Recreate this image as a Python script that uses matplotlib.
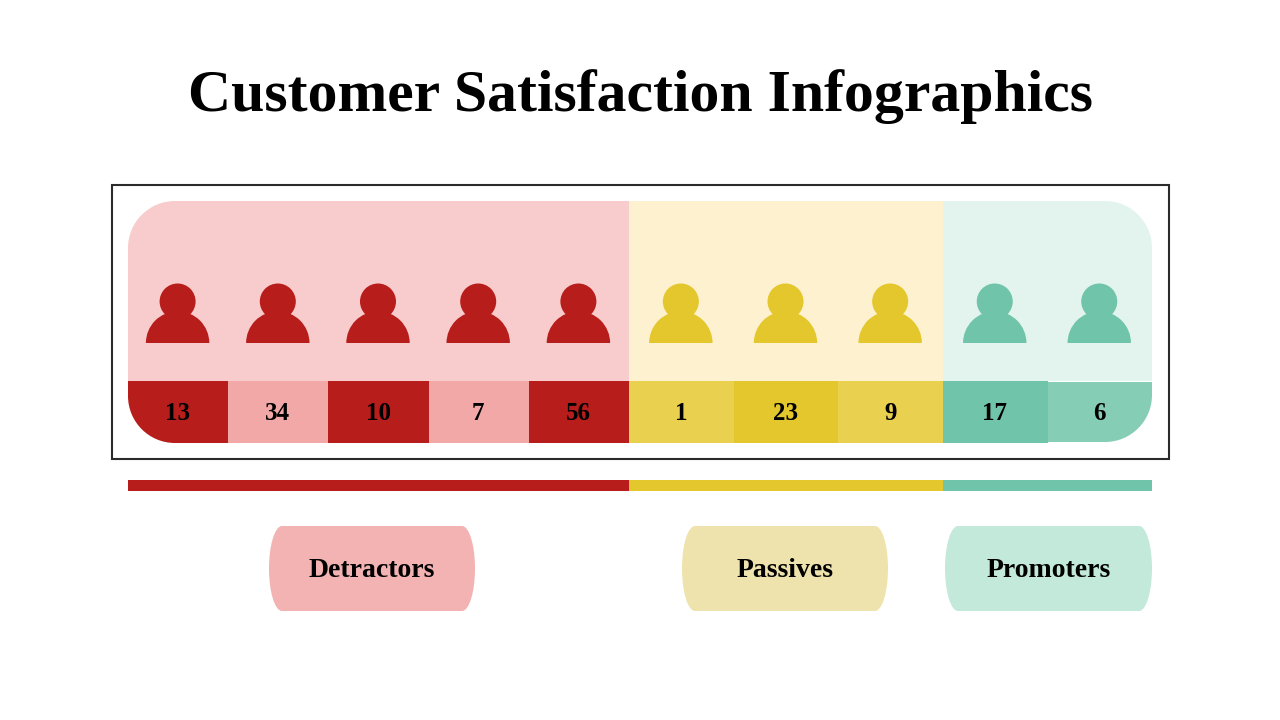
"""
    Customer Satisfaction Infographics
    NPS style strip: people, counts and three groups
"""

# %% Library
import matplotlib
matplotlib.use("Agg")
import matplotlib.pyplot as plt
from matplotlib.patches import Rectangle, Circle, Wedge, PathPatch
from matplotlib.path import Path

# %% Data
title = "Customer Satisfaction Infographics"
groups = ["Detractors", "Passives", "Promoters"]
counts = [[13, 34, 10, 7, 56], [1, 23, 9], [17, 6]]

# %% Colors (strong, soft, background, pill)
strong = ["#b71d1a", "#e3c72c", "#70c4a9"]
soft = ["#f3a8a8", "#e9d14f", "#86cdb5"]
back = ["#f8cccc", "#fef1cf", "#e3f3ed"]
pill = ["#f4b3b3", "#efe3ad", "#c3e9da"]

# %% Layout in pixels
edges = [128, 629, 943, 1152]
panel_top, panel_bottom = 201, 443
row_top = 381
corner = 47
pill_boxes = [(269, 475), (682, 888), (945, 1152)]
font = "Liberation Serif"
K = 0.5523


def draw_person(ax, cx, color):
    ax.add_patch(Circle((cx, 301.5), 18, color=color, lw=0))
    # Shoulders are a half circle standing on the baseline
    ax.add_patch(Wedge((cx, 343), 31.7, 180, 360, color=color, lw=0))


def rounded_path(x0, x1, y0, y1, rx, ry):
    # Rectangle with elliptical corners, drawn with bezier quarters
    verts = [
        (x0 + rx, y0), (x1 - rx, y0),
        (x1 - rx + K * rx, y0), (x1, y0 + ry - K * ry), (x1, y0 + ry),
        (x1, y1 - ry),
        (x1, y1 - ry + K * ry), (x1 - rx + K * rx, y1), (x1 - rx, y1),
        (x0 + rx, y1),
        (x0 + rx - K * rx, y1), (x0, y1 - ry + K * ry), (x0, y1 - ry),
        (x0, y0 + ry),
        (x0, y0 + ry - K * ry), (x0 + rx - K * rx, y0), (x0 + rx, y0),
    ]
    codes = [Path.MOVETO, Path.LINETO, Path.CURVE4, Path.CURVE4, Path.CURVE4, Path.LINETO,
             Path.CURVE4, Path.CURVE4, Path.CURVE4, Path.LINETO,
             Path.CURVE4, Path.CURVE4, Path.CURVE4, Path.LINETO,
             Path.CURVE4, Path.CURVE4, Path.CURVE4]
    return Path(verts, codes)


# %% Figure
fig = plt.figure(figsize=(12.8, 7.2), dpi=100)
ax = fig.add_axes([0, 0, 1, 1])
ax.set_xlim(0, 1280)
ax.set_ylim(720, 0)
ax.axis("off")

ax.text(640, 111, title, ha="center", va="baseline", fontsize=43,
        family=font, fontweight="bold", color="black")

# Outer frame
ax.add_patch(Rectangle((112, 185), 1057, 274, fill=False, edgecolor="#2b2b2b", lw=1.5))

# Rounded shape used to clip the colored blocks
shape = PathPatch(rounded_path(edges[0], edges[-1], panel_top, panel_bottom, corner, corner),
                  facecolor="none", lw=0)
ax.add_patch(shape)

for g, values in enumerate(counts):
    left, right = edges[g], edges[g + 1]
    width = (right - left) / len(values)

    bg = Rectangle((left, panel_top), right - left, row_top - panel_top, color=back[g], lw=0)
    ax.add_patch(bg)
    bg.set_clip_path(shape)

    for i, value in enumerate(values):
        x = left + i * width
        cx = x + width / 2 - 0.5
        # Yellow group starts on the soft tone, the others on the strong tone
        use_strong = (i % 2 == 0) if g != 1 else (i % 2 == 1)
        color = strong[g] if use_strong else soft[g]
        # The last green block sits a little short in the reference
        top, bottom = row_top, panel_bottom
        if g == 2 and i == 1:
            top, bottom = row_top + 0.5, panel_bottom - 1
        cell = Rectangle((x, top), width + 0.5, bottom - top, color=color, lw=0)
        ax.add_patch(cell)
        if g == 2 and i == 1:
            cell.set_clip_path(PathPatch(rounded_path(edges[0], edges[-1], panel_top, bottom, corner, corner),
                                         transform=ax.transData))
        else:
            cell.set_clip_path(shape)

        draw_person(ax, cx, strong[g])
        ax.text(cx, 419.5, str(value), ha="center", va="baseline", fontsize=18,
                family=font, fontweight="bold", color="black")

    # Group band
    ax.add_patch(Rectangle((left, 480), right - left, 11, color=strong[g], lw=0))

    # Group label
    x0, x1 = pill_boxes[g]
    ax.add_patch(PathPatch(rounded_path(x0, x1, 526, 611, 13, 42.5), facecolor=pill[g], lw=0))
    ax.text((x0 + x1) / 2, 577, groups[g], ha="center", va="baseline", fontsize=20,
            family=font, fontweight="bold", color="black")

fig.savefig("out.png", dpi=100)
